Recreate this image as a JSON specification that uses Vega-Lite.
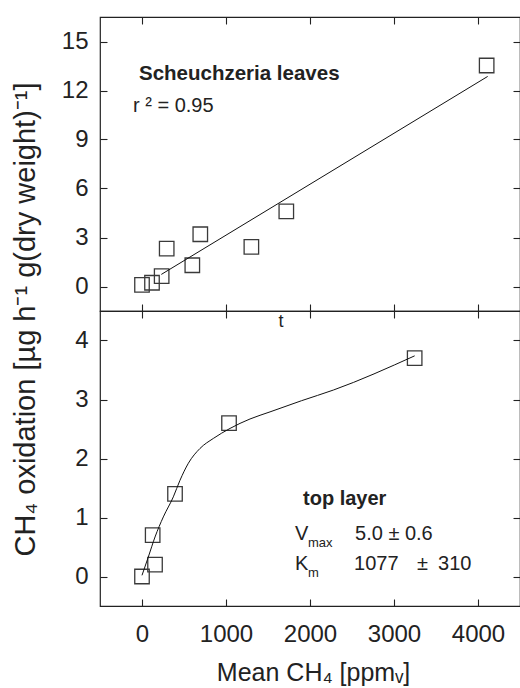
{
  "$schema": "https://vega.github.io/schema/vega-lite/v6.json",
  "padding": {"left": 10, "top": 15, "right": 0, "bottom": 0},
  "background": "white",
  "spacing": 0,
  "bounds": "flush",
  "config": {
    "view": {"stroke": "#222", "strokeWidth": 1.2},
    "axis": {"domain": false, "grid": false, "tickColor": "#222", "tickSize": -7, "tickWidth": 1.1,
      "labelFont": "Liberation Sans", "labelFontSize": 24, "labelColor": "#222",
      "titleFont": "Liberation Sans", "titleFontSize": 27, "titleFontWeight": "normal", "titleColor": "#222"},
    "text": {"font": "Liberation Sans", "color": "#222"}
  },
  "vconcat": [
    {
      "width": 420, "height": 294,
      "layer": [
        {
          "data": {"values": [
            {"x": 0, "y": 0.1}, {"x": 119, "y": 0.23}, {"x": 234, "y": 0.63}, {"x": 294, "y": 2.32},
            {"x": 599, "y": 1.3}, {"x": 694, "y": 3.2}, {"x": 1302, "y": 2.43}, {"x": 1718, "y": 4.6}, {"x": 4103, "y": 13.53}
          ]},
          "mark": {"type": "point", "shape": "square", "size": 210, "filled": false, "stroke": "#3a3a3a", "strokeWidth": 1.3, "opacity": 1},
          "encoding": {
            "x": {"field": "x", "type": "quantitative", "scale": {"domain": [-500, 4500], "nice": false, "zero": false},
              "axis": {"orient": "bottom", "values": [0, 1000, 2000, 3000, 4000], "labels": false, "title": null}},
            "y": {"field": "y", "type": "quantitative", "scale": {"domain": [-1.5, 16.5], "nice": false, "zero": false},
              "axis": {"orient": "left", "values": [0, 3, 6, 9, 12, 15], "labelPadding": 19,
                "title": "CH₄ oxidation [µg h⁻¹  g(dry weight)⁻¹]", "titleFontSize": 29, "titleX": -75, "titleY": 302, "titleAngle": -90, "titleAlign": "center", "titleBaseline": "middle"}}
          }
        },
        {
          "data": {"values": [{"x": 230, "y": 0.74}, {"x": 4115, "y": 12.86}]},
          "mark": {"type": "line", "color": "#111", "strokeWidth": 1},
          "encoding": {
            "x": {"field": "x", "type": "quantitative", "scale": {"domain": [-500, 4500], "nice": false, "zero": false},
              "axis": {"orient": "top", "values": [0, 1000, 2000, 3000, 4000], "labels": false, "title": null}},
            "y": {"field": "y", "type": "quantitative", "scale": {"domain": [-1.5, 16.5], "nice": false, "zero": false},
              "axis": {"orient": "right", "values": [0, 3, 6, 9, 12, 15], "labels": false, "title": null}}
          }
        },
        {
          "data": {"values": [{"x": -36, "y": 13.03, "t": "Scheuchzeria leaves"}]},
          "mark": {"type": "text", "align": "left", "baseline": "middle", "fontSize": 20.5, "fontWeight": "bold"},
          "encoding": {
            "x": {"field": "x", "type": "quantitative", "axis": null},
            "y": {"field": "y", "type": "quantitative", "axis": null},
            "text": {"field": "t"}
          }
        },
        {
          "data": {"values": [{"x": -107, "y": 11.07, "t": "r ² = 0.95"}]},
          "mark": {"type": "text", "align": "left", "baseline": "middle", "fontSize": 20},
          "encoding": {
            "x": {"field": "x", "type": "quantitative", "axis": null},
            "y": {"field": "y", "type": "quantitative", "axis": null},
            "text": {"field": "t"}
          }
        }
      ],
      "resolve": {"axis": {"x": "independent", "y": "independent"}}
    },
    {
      "width": 420, "height": 295,
      "layer": [
        {
          "data": {"values": [
            {"x": 0, "y": 0}, {"x": 127, "y": 0.7}, {"x": 155, "y": 0.2}, {"x": 393, "y": 1.4}, {"x": 1036, "y": 2.6}, {"x": 3246, "y": 3.7}
          ]},
          "mark": {"type": "point", "shape": "square", "size": 210, "filled": false, "stroke": "#3a3a3a", "strokeWidth": 1.3, "opacity": 1},
          "encoding": {
            "x": {"field": "x", "type": "quantitative", "scale": {"domain": [-500, 4500], "nice": false, "zero": false},
              "axis": {"orient": "bottom", "values": [0, 1000, 2000, 3000, 4000], "format": "d", "labelPadding": 23,
                "title": "Mean CH₄ [ppmᵥ]", "titleFontSize": 25, "titleX": 213, "titleY": 74, "titleBaseline": "alphabetic"}},
            "y": {"field": "y", "type": "quantitative", "scale": {"domain": [-0.5, 4.5], "nice": false, "zero": false},
              "axis": {"orient": "left", "values": [0, 1, 2, 3, 4], "labelPadding": 19, "title": null}}
          }
        },
        {
          "data": {"values": [
            {"x": 0, "y": 0.02}, {"x": 75, "y": 0.33}, {"x": 155, "y": 0.67}, {"x": 254, "y": 1.01}, {"x": 373, "y": 1.35},
            {"x": 452, "y": 1.63}, {"x": 552, "y": 1.92}, {"x": 690, "y": 2.17}, {"x": 849, "y": 2.34}, {"x": 1048, "y": 2.51},
            {"x": 1286, "y": 2.67}, {"x": 1524, "y": 2.79}, {"x": 1900, "y": 2.98}, {"x": 2278, "y": 3.16}, {"x": 3246, "y": 3.74}
          ]},
          "mark": {"type": "line", "color": "#111", "strokeWidth": 1, "interpolate": "monotone"},
          "encoding": {
            "x": {"field": "x", "type": "quantitative", "scale": {"domain": [-500, 4500], "nice": false, "zero": false},
              "axis": {"orient": "top", "values": [0, 1000, 2000, 3000, 4000], "labels": false, "title": null}},
            "y": {"field": "y", "type": "quantitative", "scale": {"domain": [-0.5, 4.5], "nice": false, "zero": false},
              "axis": {"orient": "right", "values": [0, 1, 2, 3, 4], "labels": false, "title": null}}
          }
        },
        {
          "data": {"values": [{"x": 1917, "y": 1.31, "t": "top layer"}]},
          "mark": {"type": "text", "align": "left", "baseline": "middle", "fontSize": 20, "fontWeight": "bold"},
          "encoding": {
            "x": {"field": "x", "type": "quantitative", "axis": null},
            "y": {"field": "y", "type": "quantitative", "axis": null},
            "text": {"field": "t"}
          }
        },
        {
          "data": {"values": [
            {"x": 1821, "y": 0.72, "t": "V"}, {"x": 2536, "y": 0.72, "t": "5.0 ± 0.6"},
            {"x": 1821, "y": 0.21, "t": "K"}, {"x": 2524, "y": 0.21, "t": "1077"}, {"x": 3274, "y": 0.21, "t": "±"}, {"x": 3524, "y": 0.21, "t": "310"}
          ]},
          "mark": {"type": "text", "align": "left", "baseline": "middle", "fontSize": 20},
          "encoding": {
            "x": {"field": "x", "type": "quantitative", "axis": null},
            "y": {"field": "y", "type": "quantitative", "axis": null},
            "text": {"field": "t"}
          }
        },
        {
          "data": {"values": [{"x": 1976, "y": 0.56, "t": "max"}, {"x": 1976, "y": 0.056, "t": "m"}]},
          "mark": {"type": "text", "align": "left", "baseline": "middle", "fontSize": 13},
          "encoding": {
            "x": {"field": "x", "type": "quantitative", "axis": null},
            "y": {"field": "y", "type": "quantitative", "axis": null},
            "text": {"field": "t"}
          }
        },
        {
          "data": {"values": [{"x": 1655, "y": 4.32, "t": "t"}]},
          "mark": {"type": "text", "align": "center", "baseline": "middle", "fontSize": 18},
          "encoding": {
            "x": {"field": "x", "type": "quantitative", "axis": null},
            "y": {"field": "y", "type": "quantitative", "axis": null},
            "text": {"field": "t"}
          }
        }
      ],
      "resolve": {"axis": {"x": "independent", "y": "independent"}}
    }
  ]
}
